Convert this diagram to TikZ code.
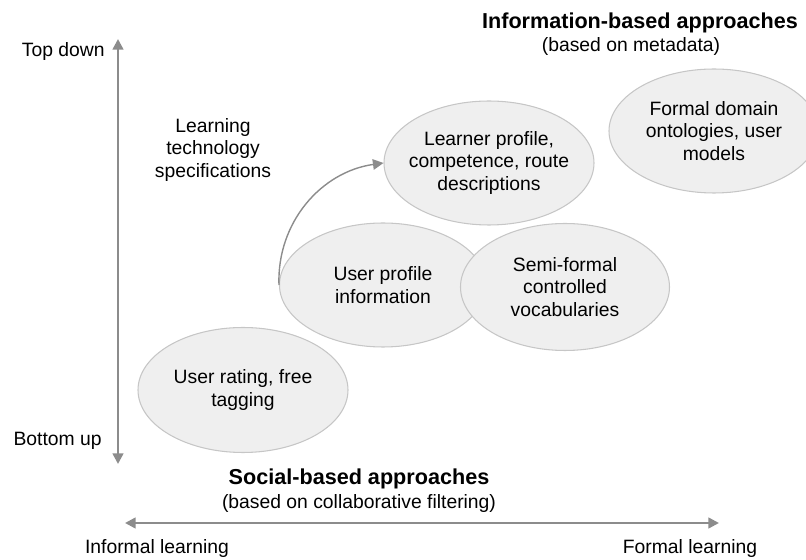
\documentclass[tikz,border=0pt]{standalone}
\usepackage{fontspec}
\setmainfont{Liberation Sans}
\usepackage{xcolor}
\usepackage{tikz}
\usetikzlibrary{arrows.meta, positioning, shapes.geometric}

\definecolor{blobfill}{HTML}{EFEFEF}
\definecolor{blobline}{HTML}{C6C6C6}
\definecolor{axisgray}{HTML}{8C8C8C}

\tikzset{
  blob/.style={ellipse, draw=blobline, fill=blobfill, line width=0.6pt,
    align=center, inner xsep=-30pt, inner ysep=-10pt},
  axis/.style={draw=axisgray, line width=1.4pt,
    {Triangle[width=6pt,length=6pt]}-{Triangle[width=6pt,length=6pt]}},
  lbl/.style={align=center, inner sep=0pt},
  head/.style={lbl, font=\fontsize{12.3}{14}\selectfont\bfseries}
}

\begin{document}
\begin{tikzpicture}[x=0.02cm, y=-0.02cm, font=\fontsize{11}{13}\selectfont]
\useasboundingbox (0,0) rectangle (806,560);

% axes
\coordinate (vtop) at (118,39);
\coordinate (vbot) at (118,464);
\coordinate (hl) at (125,523);
\coordinate (hr) at (719,523);
\draw[axis] (vtop) -- (vbot);
\draw[axis] (hl) -- (hr);
\node[lbl, anchor=east] (topdown) at (105,52) {Top down};
\node[lbl, anchor=east] (bottomup) at (102,441) {Bottom up};
\node[lbl] (informal) at (157,549) {Informal learning};
\node[lbl] (formal) at (690,549) {Formal learning};

% headings
\node[head] (social) at (359,479) {Social-based approaches};
\node[lbl] (socialsub) at (359,504) {(based on collaborative filtering)};
\node[head] (info) at (640,23) {Information-based approaches};
\node[lbl] (infosub) at (631,47) {(based on metadata)};

\node[lbl] (spec) at (213,150) {Learning\\technology\\specifications};

% ellipses
\node[blob, minimum width=210*0.02cm, minimum height=125*0.02cm] (rating) at (243,390) {User rating, free\\tagging};
\node[blob, minimum width=207*0.02cm, minimum height=124*0.02cm] (userprof) at (383,285) {User profile\\information};
\node[blob, minimum width=209*0.02cm, minimum height=127*0.02cm] (semi) at (565,287) {Semi-formal\\controlled\\vocabularies};
\node[blob, minimum width=210*0.02cm, minimum height=124*0.02cm] (learner) at (489,163) {Learner profile,\\competence, route\\descriptions};
\node[blob, minimum width=210*0.02cm, minimum height=124*0.02cm] (ontol) at (714,131) {Formal domain\\ontologies, user\\models};

% curved link
\draw[axisgray, line width=0.8pt, -{Triangle[width=6pt,length=6pt]}]
  (userprof.west) to[out=92, in=188] (learner.west);
\end{tikzpicture}
\end{document}
